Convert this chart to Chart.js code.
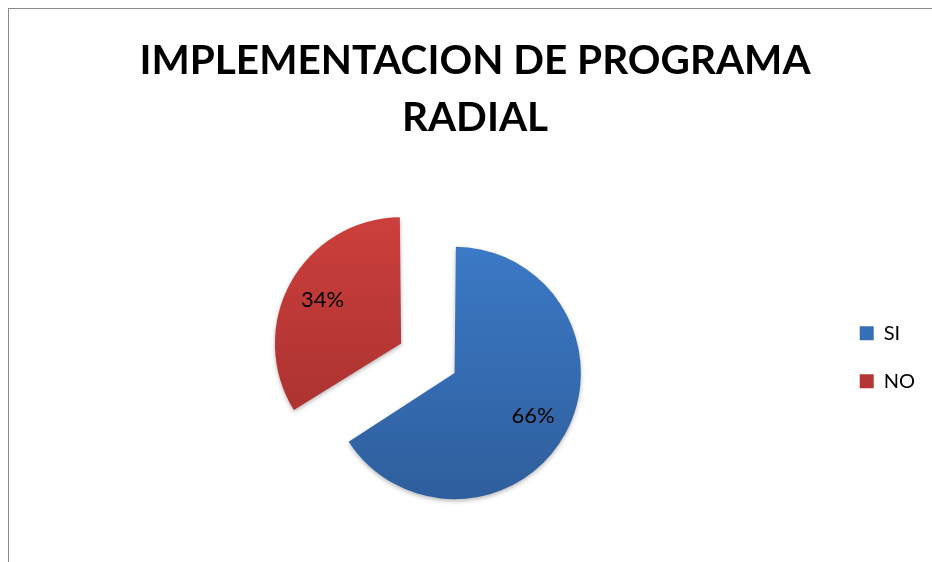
<!DOCTYPE html>
<html lang="es">
<head>
<meta charset="utf-8">
<title>Implementacion de programa radial</title>
<script src="https://cdn.jsdelivr.net/npm/chart.js@4/dist/chart.umd.min.js"></script>
<style>
  html, body { margin: 0; padding: 0; background: #fff; overflow: hidden; }
  #marco {
    position: absolute; left: 8px; top: 8px;
    border-left: 1px solid #8a8a8a; border-top: 1px solid #8a8a8a;
    width: 940px; height: 600px;
  }
  #grafico { display: block; }
</style>
</head>
<body>
<div id="marco">
  <canvas id="grafico" width="932" height="590"></canvas>
</div>
<script>
// Datos del grafico
const categorias = ['SI', 'NO'];
const porcentajes = [66, 34];

// Colores (degradado de arriba hacia abajo)
const coloresArriba = ['#3d7ccb', '#d1413e'];
const coloresAbajo = ['#2d5b97', '#9d2d2b'];
const desplazamientos = [33, 211];
const radio = 118;

// Degradado vertical para cada porcion
function degradado(context) {
  const chart = context.chart;
  const i = context.dataIndex;
  const area = chart.chartArea;
  if (!area) return coloresArriba[i];
  const cy = (area.top + area.bottom) / 2;
  const ctx = chart.ctx;
  const g = ctx.createLinearGradient(0, cy - radio - 40, 0, cy + radio + 40);
  g.addColorStop(0, coloresArriba[i]);
  g.addColorStop(1, coloresAbajo[i]);
  return g;
}

// Sombra suave debajo del pastel
const sombra = {
  id: 'sombra',
  beforeDatasetsDraw(chart) {
    const ctx = chart.ctx;
    ctx.save();
    ctx.shadowColor = 'rgba(0, 0, 0, 0.28)';
    ctx.shadowBlur = 4;
    ctx.shadowOffsetY = 2;
  },
  afterDatasetsDraw(chart) {
    chart.ctx.restore();
  }
};

// Etiquetas de porcentaje dentro de cada porcion
const etiquetasPorcentaje = {
  id: 'etiquetasPorcentaje',
  afterDatasetsDraw(chart) {
    const ctx = chart.ctx;
    const meta = chart.getDatasetMeta(0);
    ctx.save();
    ctx.font = '22px Lato';
    ctx.fillStyle = '#000';
    ctx.textAlign = 'center';
    ctx.textBaseline = 'middle';
    meta.data.forEach((arc, i) => {
      const mitad = (arc.startAngle + arc.endAngle) / 2;
      const desp = (arc.options.offset || 0) / 4;
      const fix = 1 - Math.sin(Math.min(Math.PI, arc.circumference));
      const r = arc.outerRadius + desp * fix;
      const d = desp + r * 0.71;
      const x = arc.x + Math.cos(mitad) * d;
      const y = arc.y + Math.sin(mitad) * d;
      ctx.fillText(porcentajes[i] + '%', x, y);
    });
    ctx.restore();
  }
};

new Chart(document.getElementById('grafico'), {
  type: 'pie',
  data: {
    labels: categorias,
    datasets: [{
      data: porcentajes,
      backgroundColor: degradado,
      borderWidth: 0,
      offset: desplazamientos,
      hoverOffset: 0,
      radius: radio,
      clip: false
    }]
  },
  options: {
    responsive: false,
    animation: false,
    layout: {
      padding: { left: 16, right: 16, top: 0, bottom: 18 }
    },
    plugins: {
      title: {
        display: true,
        text: ['IMPLEMENTACION DE PROGRAMA', 'RADIAL'],
        color: '#000',
        font: { family: 'Lato', size: 40.5, weight: 'bold', lineHeight: 1.407 },
        padding: { top: 23, bottom: 11 }
      },
      // espacio vacio a la izquierda para centrar el pastel como en Excel
      subtitle: {
        display: true,
        position: 'left',
        text: '',
        font: { size: 10, lineHeight: 1 },
        padding: { top: 14, bottom: 14 }
      },
      legend: {
        position: 'right',
        align: 'start',
        fullSize: false,
        title: { display: true, text: '', padding: { top: 124, bottom: 0 } },
        labels: {
          boxWidth: 14,
          boxHeight: 14,
          padding: 28,
          color: '#000',
          font: { family: 'Lato', size: 20 }
        }
      },
      tooltip: { enabled: false }
    }
  },
  plugins: [sombra, etiquetasPorcentaje]
});
</script>
</body>
</html>
